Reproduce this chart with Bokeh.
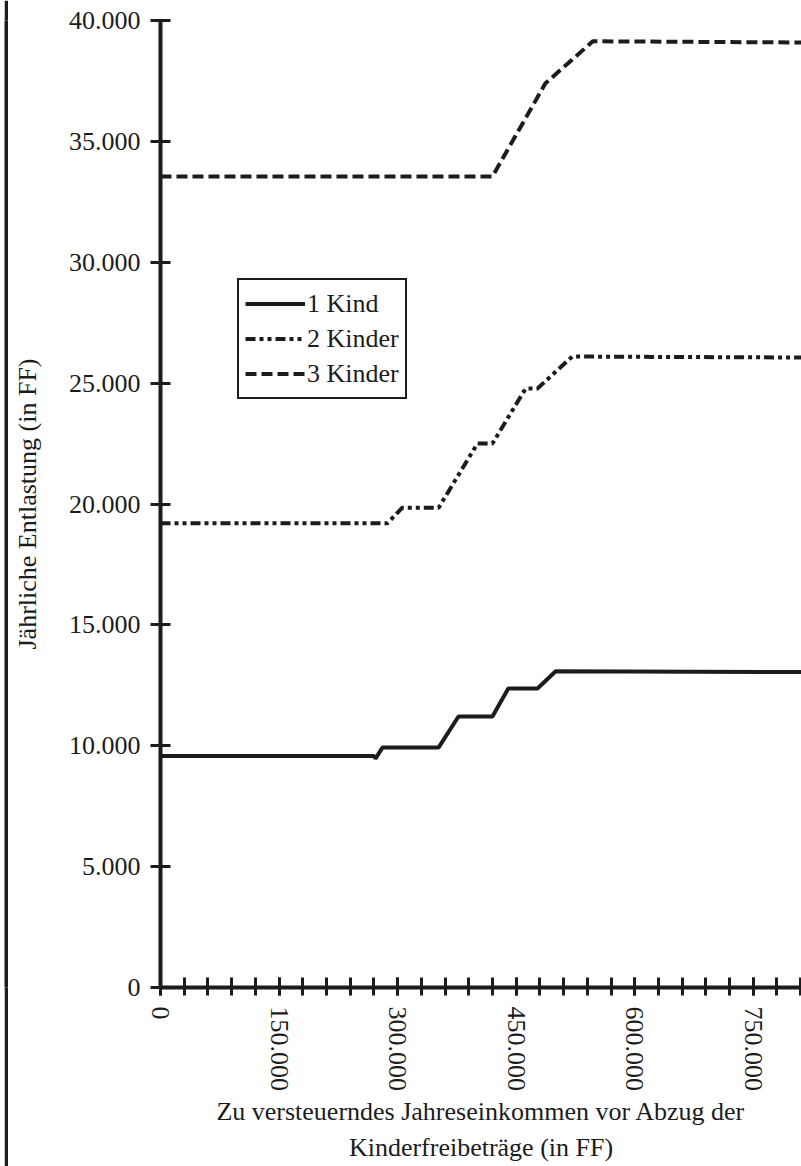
from bokeh.plotting import figure
from bokeh.models import (Range1d, SingleIntervalTicker, CustomJSTickFormatter,
                          Legend, LegendItem, Title, Spacer)
from bokeh.layouts import row
from bokeh.embed import file_html
from bokeh.resources import INLINE

# ---- data ----
income_1 = [0, 270000, 272000, 281000, 352000, 377000, 420000, 440000, 477000, 500000, 811000]
relief_1 = [9580, 9580, 9470, 9930, 9930, 11210, 11210, 12370, 12370, 13080, 13050]

income_2 = [0, 287000, 306000, 352000, 401000, 420000, 462000, 477000, 521000, 811000]
relief_2 = [19200, 19200, 19850, 19850, 22500, 22500, 24780, 24780, 26100, 26060]

income_3 = [0, 420000, 487000, 547000, 811000]
relief_3 = [33550, 33550, 37400, 39140, 39090]

series_names = ["1 Kind", "2 Kinder", "3 Kinder"]
x_title_1 = "Zu versteuerndes Jahreseinkommen vor Abzug der"
x_title_2 = "Kinderfreibeträge (in FF)"
y_title = "Jährliche Entlastung (in FF)"

INK = "#1c1c1c"
FONT = "Liberation Serif"
FS = "26px"
H = 1166

p = figure(width=793, height=H, output_backend="svg", toolbar_location=None,
           x_range=Range1d(0, 811000), y_range=Range1d(0, 40000),
           min_border_left=152, min_border_right=0, min_border_top=20,
           min_border_bottom=179, outline_line_color=None,
           background_fill_color="white", border_fill_color="white")
p.xgrid.visible = False
p.ygrid.visible = False

r1 = p.line(income_1, relief_1, line_color=INK, line_width=4)
r2 = p.line(income_2, relief_2, line_color=INK, line_width=4, line_dash="10 4 4 4 4 4")
r3 = p.line(income_3, relief_3, line_color=INK, line_width=4, line_dash="11 5")

fmt = CustomJSTickFormatter(code="""
const s = Math.round(tick).toString();
return s.replace(/\\B(?=(\\d{3})+(?!\\d))/g, ".");
""")

# y axis
ya = p.yaxis[0]
ya.ticker = SingleIntervalTicker(interval=5000, num_minor_ticks=0)
ya.formatter = fmt
ya.axis_line_color = INK
ya.axis_line_width = 4
ya.major_tick_line_color = INK
ya.major_tick_line_width = 3
ya.major_tick_in = 10
ya.major_tick_out = 10
ya.minor_tick_line_color = None
ya.major_label_standoff = 10
ya.major_label_text_font = FONT
ya.major_label_text_font_size = FS
ya.major_label_text_color = INK
ya.axis_label = y_title
ya.axis_label_text_font = FONT
ya.axis_label_text_font_size = FS
ya.axis_label_text_font_style = "normal"
ya.axis_label_text_color = INK
ya.axis_label_standoff = 24

# x axis
xa = p.xaxis[0]
xa.ticker = SingleIntervalTicker(interval=150000, num_minor_ticks=5)
xa.formatter = fmt
xa.axis_line_color = INK
xa.axis_line_width = 4
xa.major_tick_line_color = INK
xa.major_tick_line_width = 3
xa.major_tick_in = 10
xa.major_tick_out = 8
xa.minor_tick_line_color = INK
xa.minor_tick_line_width = 3
xa.minor_tick_in = 10
xa.minor_tick_out = 8
xa.major_label_orientation = "vertical"
xa.major_label_standoff = 11
xa.major_label_text_font = FONT
xa.major_label_text_font_size = FS
xa.major_label_text_color = INK

t1 = Title(text=x_title_1, align="center", text_font=FONT, text_font_size=FS,
           text_font_style="normal", text_color=INK, standoff=0)
t2 = Title(text=x_title_2, align="center", text_font=FONT, text_font_size=FS,
           text_font_style="normal", text_color=INK, standoff=10)
p.add_layout(t1, "below")
p.add_layout(t2, "below")

legend = Legend(items=[LegendItem(label=series_names[0], renderers=[r1]),
                       LegendItem(label=series_names[1], renderers=[r2]),
                       LegendItem(label=series_names[2], renderers=[r3])],
                location=(77, 588), padding=6, spacing=0, margin=0,
                glyph_width=60, glyph_height=35, label_height=35,
                label_standoff=2, label_text_font=FONT, label_text_font_size=FS,
                label_text_color=INK, border_line_color=INK, border_line_width=2,
                border_line_alpha=1,
                background_fill_color="white", background_fill_alpha=1)
p.add_layout(legend)

# thin vertical border line on the far left
edge = figure(width=4, height=H, output_backend="svg", toolbar_location=None,
              x_axis_type=None, y_axis_type=None, min_border=0,
              outline_line_color=None, background_fill_color=INK,
              border_fill_color=INK)
edge.xgrid.visible = False
edge.ygrid.visible = False

layout = row(Spacer(width=4, height=H), edge, p, spacing=0)
open("out.html", "w").write(file_html(layout, INLINE))
